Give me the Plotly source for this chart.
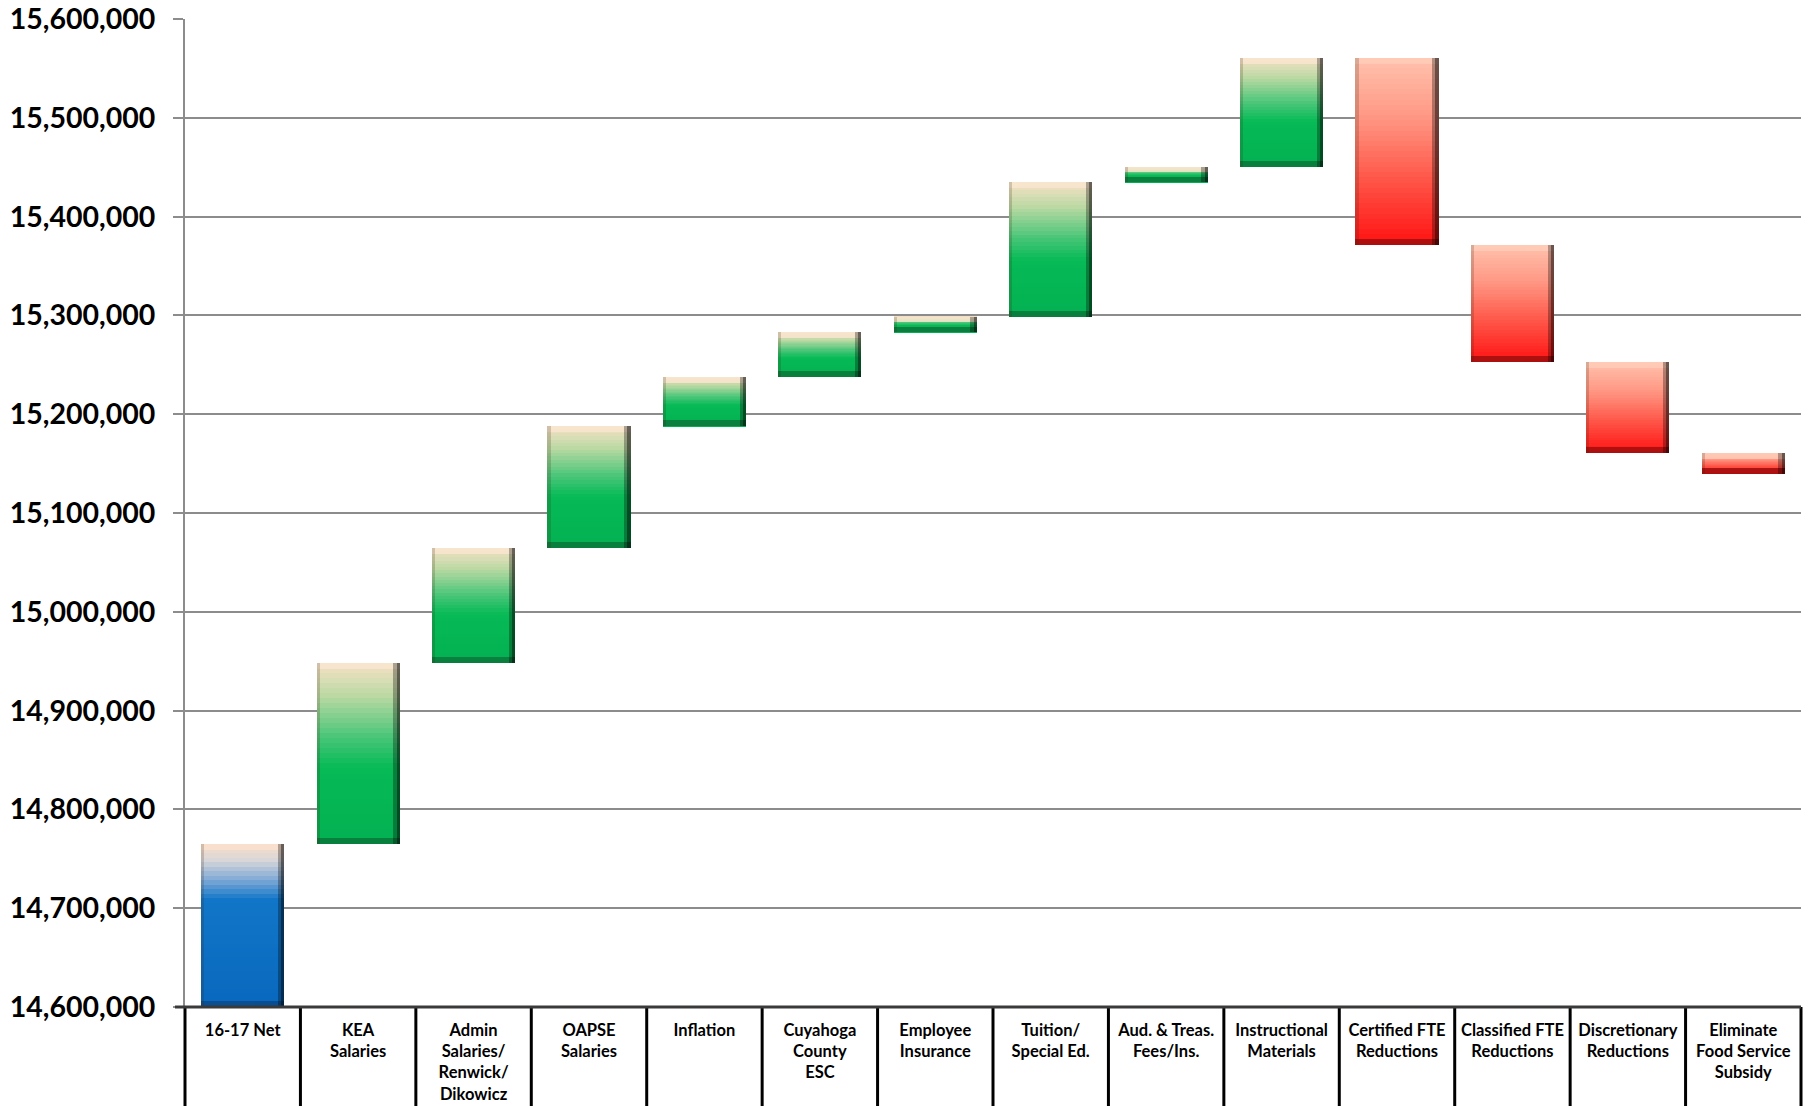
import plotly.graph_objects as go

# ---------------- data ----------------
categories = [
    "16-17 Net", "KEA<br>Salaries", "Admin<br>Salaries/<br>Renwick/<br>Dikowicz",
    "OAPSE<br>Salaries", "Inflation", "Cuyahoga<br>County<br>ESC",
    "Employee<br>Insurance", "Tuition/<br>Special Ed.", "Aud. & Treas.<br>Fees/Ins.",
    "Instructional<br>Materials", "Certified FTE<br>Reductions",
    "Classified FTE<br>Reductions", "Discretionary<br>Reductions",
    "Eliminate<br>Food Service<br>Subsidy",
]
start_value = 14765000
changes = [183400, 116400, 123200, 49900, 44900, 15800, 136000, 15500, 110300,
           -188900, -118800, -92100, -20900]
kinds = ["total"] + ["up" if c > 0 else "down" for c in changes]

y_min, y_max, y_step = 14600000, 15600000, 100000

# ---------------- styling ----------------
W, H = 1808, 1106
M_L, M_R, M_T, M_B = 185, 7, 19, 99
BAR_W = 0.72
N_SLICES = 36
BEVEL = 6000          # value units (~6 px)
EDGE_W = 0.055        # x units (~6 px)

stops = {
    "up": [(0.0, "#f6e1c6"), (0.18, "#bcd9a4"), (0.42, "#45c576"), (0.58, "#07ba56"), (1.0, "#03b152")],
    "down": [(0.0, "#ffc2ad"), (0.3, "#ff9a86"), (0.65, "#ff5648"), (1.0, "#ff1212")],
    "total": [(0.0, "#f8dcc6"), (0.1, "#d8d6da"), (0.22, "#7fa9d6"), (0.34, "#1276c8"), (1.0, "#0868bd")],
}
bottom_col = {"up": "#0a7a3c", "down": "#a50f0f", "total": "#0a4c8c"}
top_col = {"up": "#f9e6cf", "down": "#ffccb8", "total": "#f9e1cf"}


def hex2rgb(h):
    h = h.lstrip("#")
    return tuple(int(h[i:i + 2], 16) for i in (0, 2, 4))


def interp(st, t):
    for (t0, c0), (t1, c1) in zip(st[:-1], st[1:]):
        if t <= t1:
            f = 0 if t1 == t0 else (t - t0) / (t1 - t0)
            a, b = hex2rgb(c0), hex2rgb(c1)
            return "rgb(%d,%d,%d)" % tuple(round(a[i] + (b[i] - a[i]) * f) for i in range(3))
    return st[-1][1]


# compute floating bar extents from the data
lows, highs = [y_min], [start_value]
running = start_value
for c in changes:
    new = running + c
    lows.append(min(running, new))
    highs.append(max(running, new))
    running = new

xs = list(range(len(categories)))
fig = go.Figure()

# gradient slices
for k in range(N_SLICES):
    bases, heights, cols = [], [], []
    for i in xs:
        lo, hi = lows[i], highs[i]
        h = (hi - lo) / N_SLICES
        bases.append(hi - (k + 1) * h)
        heights.append(h)
        cols.append(interp(stops[kinds[i]], (k + 0.5) / N_SLICES))
    fig.add_trace(go.Bar(x=xs, y=heights, base=bases, width=BAR_W,
                         marker=dict(color=cols, line=dict(width=0)),
                         hoverinfo="skip", showlegend=False))

# bevels: top light band, bottom dark band
bev = [min(BEVEL, (highs[i] - lows[i]) / 3) for i in xs]
fig.add_trace(go.Bar(x=xs, y=bev, base=[highs[i] - bev[i] for i in xs], width=BAR_W,
                     marker=dict(color=[top_col[kinds[i]] for i in xs], line=dict(width=0)),
                     opacity=0.85, hoverinfo="skip", showlegend=False))
fig.add_trace(go.Bar(x=xs, y=bev, base=lows, width=BAR_W,
                     marker=dict(color=[bottom_col[kinds[i]] for i in xs], line=dict(width=0)),
                     opacity=0.9, hoverinfo="skip", showlegend=False))
# right edge shadow (two layers for a soft gradient)
fig.add_trace(go.Bar(x=xs, y=[highs[i] - lows[i] for i in xs], base=lows, width=EDGE_W,
                     offset=BAR_W / 2 - EDGE_W,
                     marker=dict(color="rgba(0,0,0,0.3)", line=dict(width=0)),
                     hoverinfo="skip", showlegend=False))
fig.add_trace(go.Bar(x=xs, y=[highs[i] - lows[i] for i in xs], base=lows, width=EDGE_W / 2,
                     offset=BAR_W / 2 - EDGE_W / 2,
                     marker=dict(color="rgba(0,0,0,0.4)", line=dict(width=0)),
                     hoverinfo="skip", showlegend=False))
# left edge subtle shade
fig.add_trace(go.Bar(x=xs, y=[highs[i] - lows[i] for i in xs], base=lows, width=EDGE_W * 0.5,
                     offset=-BAR_W / 2,
                     marker=dict(color="rgba(60,40,20,0.2)", line=dict(width=0)),
                     hoverinfo="skip", showlegend=False))

# table-like category cells below the axis
n = len(categories)
shapes = []
for i in range(n + 1):
    shapes.append(dict(type="line", xref="paper", yref="paper", x0=i / n, x1=i / n,
                       y0=0, y1=-0.2, line=dict(color="#000000", width=3), layer="above"))
plot_w = W - M_L - M_R
shapes.append(dict(type="line", xref="paper", yref="paper", x0=-10 / plot_w, x1=1,
                   y0=0, y1=0, line=dict(color="#3a3a3a", width=3), layer="above"))

fig.update_layout(
    width=W, height=H,
    margin=dict(l=M_L, r=M_R, t=M_T, b=M_B, pad=0, autoexpand=False),
    paper_bgcolor="white", plot_bgcolor="white",
    barmode="overlay", bargap=0,
    shapes=shapes,
    font=dict(family="Lato, 'Open Sans', sans-serif", color="black"),
    xaxis=dict(range=[-0.5, n - 0.5], tickvals=xs, ticktext=categories,
               showgrid=False, showline=False, zeroline=False, ticks="",
               tickfont=dict(size=16.5, weight="bold", family="Lato"),
               ticklabelstandoff=11, fixedrange=True, automargin=False),
    yaxis=dict(range=[y_min, y_max], dtick=y_step, tick0=y_min, tickformat=",d",
               showgrid=True, gridcolor="#8c8c8c", gridwidth=2,
               showline=True, linecolor="#8c8c8c", linewidth=2, zeroline=False,
               ticks="outside", ticklen=10, tickcolor="#8c8c8c", tickwidth=2,
               tickfont=dict(size=28.5, weight="bold", family="Lato"),
               ticklabelstandoff=12, fixedrange=True, automargin=False),
)

fig.write_html("out.html")
